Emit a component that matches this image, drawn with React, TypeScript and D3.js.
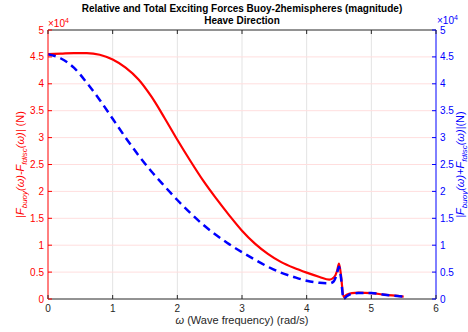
import React from "react";
import * as d3 from "d3";

const omega = [0, 0.2, 0.4, 0.6, 0.8, 1.0, 1.2, 1.4, 1.6, 1.8, 2.0, 2.2, 2.4, 2.6, 2.8, 3.0, 3.2, 3.4, 3.6, 3.8, 4.0, 4.2, 4.35, 4.42, 4.47, 4.5, 4.53, 4.57, 4.62, 4.7, 4.8, 5.0, 5.2, 5.5];
const relForce = [4.55, 4.56, 4.57, 4.57, 4.54, 4.45, 4.3, 4.08, 3.76, 3.37, 2.96, 2.57, 2.2, 1.87, 1.56, 1.27, 1.03, 0.84, 0.69, 0.58, 0.49, 0.41, 0.36, 0.4, 0.52, 0.66, 0.45, 0.04, 0.08, 0.11, 0.12, 0.11, 0.08, 0.045];
const totForce = [4.55, 4.47, 4.3, 4.02, 3.7, 3.35, 3.0, 2.67, 2.37, 2.1, 1.84, 1.6, 1.38, 1.19, 1.02, 0.87, 0.73, 0.6, 0.49, 0.41, 0.34, 0.3, 0.29, 0.33, 0.48, 0.6, 0.4, 0.0, 0.05, 0.1, 0.11, 0.11, 0.08, 0.045];
const xTicks = [0, 1, 2, 3, 4, 5, 6];
const yTicks = [0, 0.5, 1, 1.5, 2, 2.5, 3, 3.5, 4, 4.5, 5];

const W = 468, H = 332;
const L = 48, R = 436, T = 30, B = 299;
const FONT = "'Liberation Sans', Arial, Helvetica, sans-serif";
const RED = "#ff0000";
const BLUE = "#0000ff";
const DARK = "#262626";

export default function App() {
  const x = d3.scaleLinear().domain([0, 6]).range([L, R]);
  const yl = d3.scaleLinear().domain([0, 5]).range([B, T]);
  const yr = d3.scaleLinear().domain([0, 5]).range([B, T]);
  const line = (vals: number[], ys: d3.ScaleLinear<number, number>) =>
    d3.line<number>().x((_, i) => x(omega[i])).y((d) => ys(d)).curve(d3.curveMonotoneX)(vals) || "";

  return (
    <svg width={W} height={H} style={{ position: "absolute", left: 0, top: 0, background: "#fff" }} fontFamily={FONT}>
      <rect x={0} y={0} width={W} height={H} fill="#fff" />
      {xTicks.slice(1, -1).map((t) => (
        <line key={"gx" + t} x1={x(t)} x2={x(t)} y1={T} y2={B} stroke="#e3e3e3" strokeWidth={1} />
      ))}
      {yTicks.slice(1, -1).map((t) => (
        <line key={"gy" + t} x1={L} x2={R} y1={yl(t)} y2={yl(t)} stroke="#ffdede" strokeWidth={1} />
      ))}
      <path d={line(relForce, yl)} fill="none" stroke={RED} strokeWidth={2.2} strokeLinejoin="round" />
      <path d={line(totForce, yr)} fill="none" stroke={BLUE} strokeWidth={2.5} strokeDasharray="8,5" />
      <line x1={L} x2={R} y1={T} y2={T} stroke={DARK} strokeWidth={1} />
      <line x1={L} x2={R} y1={B} y2={B} stroke={DARK} strokeWidth={1} />
      <line x1={L} x2={L} y1={T} y2={B} stroke={RED} strokeWidth={1} />
      <line x1={R} x2={R} y1={T} y2={B} stroke={BLUE} strokeWidth={1} />
      {xTicks.map((t) => (
        <g key={"xt" + t}>
          <line x1={x(t)} x2={x(t)} y1={B} y2={B - 4} stroke={DARK} />
          <line x1={x(t)} x2={x(t)} y1={T} y2={T + 4} stroke={DARK} />
          <text x={x(t)} y={B + 13} fontSize={10} fill={DARK} textAnchor="middle">{t}</text>
        </g>
      ))}
      {yTicks.map((t) => (
        <g key={"yl" + t}>
          <line x1={L} x2={L + 4} y1={yl(t)} y2={yl(t)} stroke={RED} />
          <text x={L - 4} y={yl(t) + 3.5} fontSize={10} fill={RED} textAnchor="end">{t}</text>
        </g>
      ))}
      {yTicks.map((t) => (
        <g key={"yr" + t}>
          <line x1={R} x2={R - 4} y1={yr(t)} y2={yr(t)} stroke={BLUE} />
          <text x={R + 4} y={yr(t) + 3.5} fontSize={10} fill={BLUE} textAnchor="start">{t}</text>
        </g>
      ))}
      <text x={L} y={T - 3} fontSize={10} fill={RED}>
        ×10<tspan dy={-4} fontSize={7}>4</tspan>
      </text>
      <text x={R + 1} y={T - 6} fontSize={10} fill={BLUE}>
        ×10<tspan dy={-4} fontSize={7}>4</tspan>
      </text>
      <text x={242} y={12} fontSize={10} fontWeight="bold" fill="#000" textAnchor="middle">
        Relative and Total Exciting Forces Buoy-2hemispheres (magnitude)
      </text>
      <text x={242} y={24} fontSize={10} fontWeight="bold" fill="#000" textAnchor="middle">
        Heave Direction
      </text>
      <text x={242} y={324} fontSize={11} fill={DARK} textAnchor="middle">
        <tspan fontStyle="italic">ω</tspan> (Wave frequency) (rad/s)
      </text>
      <text transform={`translate(24,${(T + B) / 2}) rotate(-90)`} fontSize={11} fill={RED} textAnchor="middle">
        <tspan fontStyle="italic">|F</tspan>
        <tspan fontStyle="italic" fontSize={8} dy={3}>buoy</tspan>
        <tspan fontStyle="italic" dy={-3}>(ω)-F</tspan>
        <tspan fontStyle="italic" fontSize={8} dy={3}>fdisc</tspan>
        <tspan fontStyle="italic" dy={-3}>(ω)|</tspan>
        <tspan> (N)</tspan>
      </text>
      <text transform={`translate(464,${(T + B) / 2}) rotate(-90)`} fontSize={11} fill={BLUE} textAnchor="middle">
        <tspan fontStyle="italic">|F</tspan>
        <tspan fontStyle="italic" fontSize={8} dy={3}>buoy</tspan>
        <tspan fontStyle="italic" dy={-3}>(ω)+F</tspan>
        <tspan fontStyle="italic" fontSize={8} dy={3}>fdisc</tspan>
        <tspan fontStyle="italic" dy={-3}>(ω)|</tspan>
        <tspan>(N)</tspan>
      </text>
    </svg>
  );
}
